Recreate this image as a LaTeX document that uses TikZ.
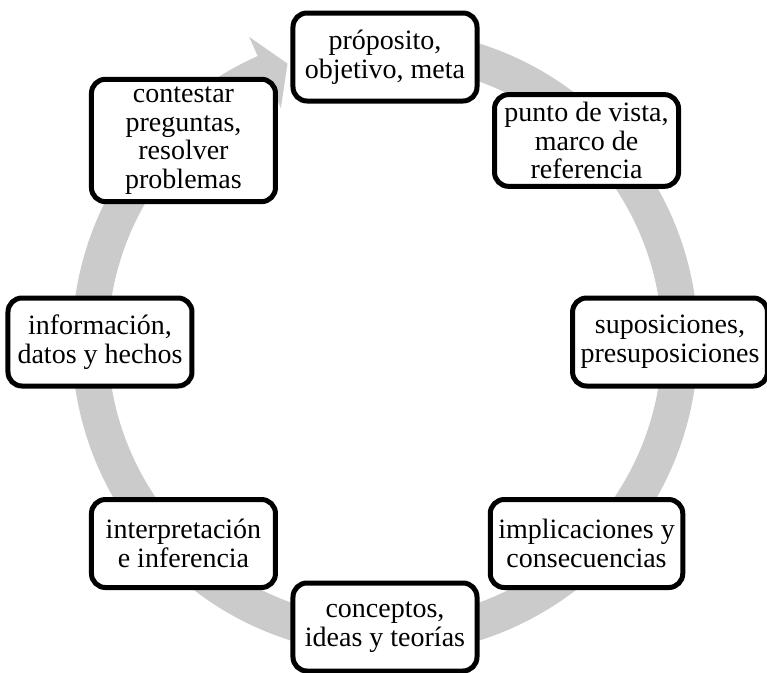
\documentclass[tikz,border=0pt]{standalone}
\usepackage{fontspec}
\setmainfont{Liberation Serif}
\definecolor{ring}{HTML}{CBCBCB}
\definecolor{ink}{HTML}{000000}
\tikzset{stage/.style={draw=ink,line width=3.75pt,rounded corners=10.5pt,fill=white,align=center,
  minimum width=138pt,minimum height=66pt,inner xsep=6pt,inner ysep=5.5pt,font=\fontsize{21}{21.5}\selectfont}}

\begin{document}
\begin{tikzpicture}[x=0.75pt,y=0.75pt]
\useasboundingbox (-385,-330) rectangle (382,342);
% grey cycle arrow
\fill[ring] (80:313) arc[start angle=80,end angle=-246,radius=313]--(-246:334)--(-250.7:295)--(-246:256)--(-246:277)
  arc[start angle=-246,end angle=80,radius=277]--cycle;
\node[stage] (meta) at (90:285){próposito,\\objetivo, meta};
\node[stage] (vista) at (45:285){punto de vista,\\marco de\\referencia};
\node[stage] (supos) at (0:285){suposiciones,\\presuposiciones};
\node[stage] (implic) at (-45:285){implicaciones y\\consecuencias};
\node[stage] (concep) at (-90:285){conceptos,\\ideas y teorías};
\node[stage] (interp) at (-135:285){interpretación\\e inferencia};
\node[stage] (info) at (180:285){información,\\datos y hechos};
\node[stage] (contest) at (135:285){contestar\\preguntas,\\resolver\\problemas};
\end{tikzpicture}
\end{document}
